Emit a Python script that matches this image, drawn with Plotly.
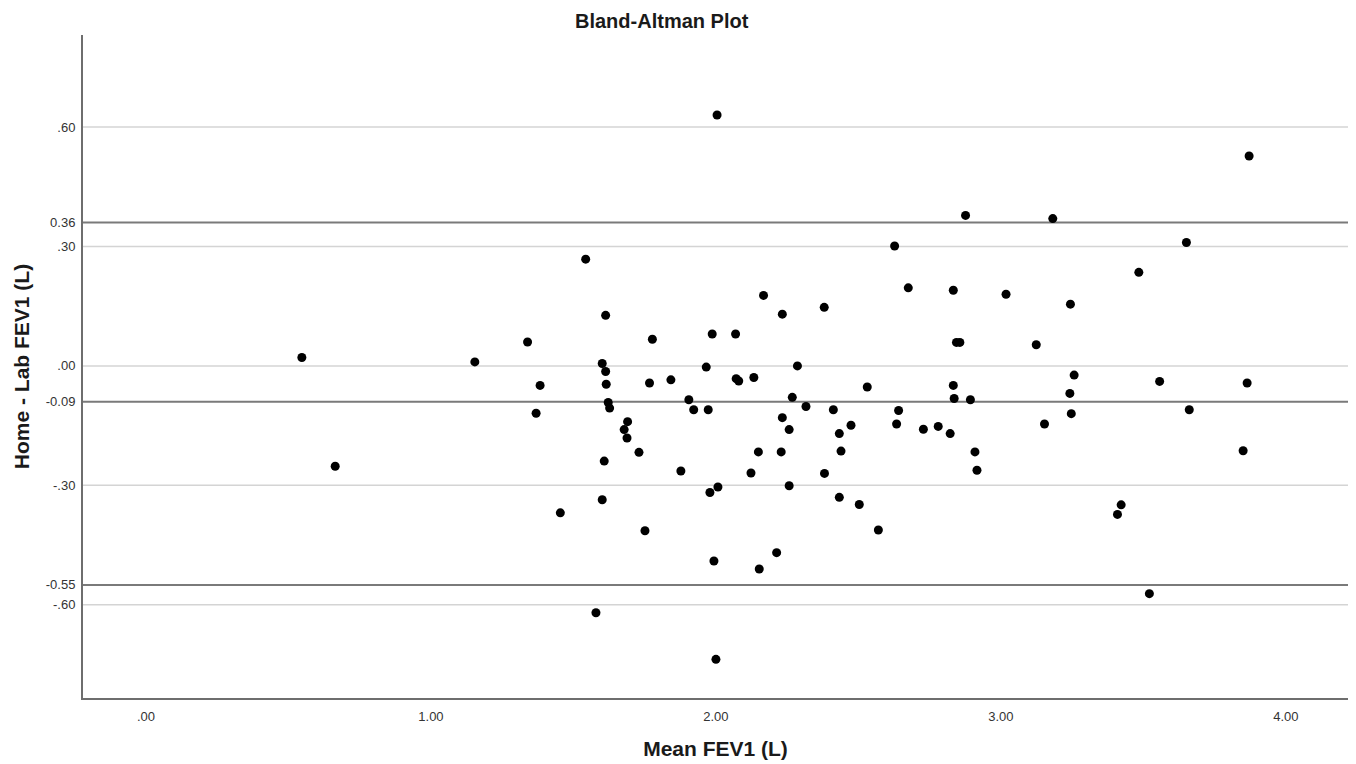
import plotly.graph_objects as go

# Data
mean_fev1 = [0.547, 0.664, 1.154, 1.339, 1.369, 1.383, 1.454, 1.543, 1.579, 1.601,
             1.601, 1.608, 1.613, 1.613, 1.615, 1.622, 1.627, 1.678, 1.688, 1.690,
             1.730, 1.751, 1.767, 1.777, 1.842, 1.877, 1.905, 1.922, 1.966, 1.973,
             1.979, 1.987, 1.993, 2.000, 2.004, 2.007, 2.069, 2.071, 2.080, 2.123,
             2.133, 2.149, 2.152, 2.167, 2.213, 2.229, 2.233, 2.233, 2.257, 2.257,
             2.268, 2.286, 2.316, 2.380, 2.381, 2.412, 2.433, 2.433, 2.439, 2.474,
             2.503, 2.531, 2.570, 2.627, 2.634, 2.641, 2.675, 2.728, 2.780, 2.822,
             2.833, 2.833, 2.836, 2.844, 2.856, 2.876, 2.893, 2.909, 2.916, 3.018,
             3.124, 3.153, 3.182, 3.242, 3.244, 3.247, 3.257, 3.409, 3.422, 3.484,
             3.521, 3.557, 3.651, 3.661, 3.850, 3.864, 3.871]
diff_fev1 = [0.021, -0.252, 0.010, 0.060, -0.119, -0.049, -0.369, 0.268, -0.620, 0.006,
             -0.336, -0.239, 0.127, -0.014, -0.046, -0.092, -0.106, -0.160, -0.181, -0.140,
             -0.217, -0.414, -0.043, 0.067, -0.035, -0.264, -0.085, -0.110, -0.003, -0.110,
             -0.318, 0.080, -0.490, -0.737, 0.630, -0.304, 0.080, -0.032, -0.038, -0.269,
             -0.029, -0.216, -0.510, 0.177, -0.469, -0.216, 0.130, -0.130, -0.160, -0.301,
             -0.079, 0.000, -0.102, 0.147, -0.270, -0.110, -0.170, -0.330, -0.214, -0.149,
             -0.348, -0.053, -0.412, 0.301, -0.146, -0.112, 0.196, -0.159, -0.152, -0.170,
             0.190, -0.049, -0.082, 0.059, 0.059, 0.378, -0.085, -0.216, -0.262, 0.180,
             0.053, -0.146, 0.370, -0.069, 0.155, -0.120, -0.023, -0.373, -0.349, 0.235,
             -0.572, -0.039, 0.310, -0.110, -0.213, -0.043, 0.527]

grid_values = [-0.60, -0.30, 0.00, 0.30, 0.60]
limit_values = [0.36, -0.09, -0.55]   # upper LoA, mean bias, lower LoA

y_tickvals = [0.60, 0.36, 0.30, 0.00, -0.09, -0.30, -0.55, -0.60]
y_ticktext = [".60", "0.36", ".30", ".00", "-0.09", "-.30", "-0.55", "-.60"]
x_tickvals = [0, 1, 2, 3, 4]
x_ticktext = [".00", "1.00", "2.00", "3.00", "4.00"]

FONT = "Liberation Sans, Arial, sans-serif"

fig = go.Figure()

shapes = []
for g in grid_values:
    shapes.append(dict(type="line", xref="paper", x0=0, x1=1, yref="y", y0=g, y1=g,
                       line=dict(color="#d4d4d4", width=1.5), layer="below"))
for v in limit_values:
    shapes.append(dict(type="line", xref="paper", x0=0, x1=1, yref="y", y0=v, y1=v,
                       line=dict(color="#7a7a7a", width=2), layer="below"))

fig.add_trace(go.Scatter(
    x=mean_fev1, y=diff_fev1, mode="markers",
    marker=dict(color="black", size=9, line=dict(width=0)),
    showlegend=False, cliponaxis=False,
))

fig.update_layout(
    width=1348, height=756,
    margin=dict(l=75, r=8, t=27, b=66),
    paper_bgcolor="white", plot_bgcolor="white",
    font=dict(family=FONT, color="#333333"),
    shapes=shapes,
    annotations=[dict(text="<b>Bland-Altman Plot</b>", xref="paper", yref="paper",
                      x=(662 - 83) / 1265, y=1, yshift=14, xanchor="center",
                      yanchor="middle", showarrow=False,
                      font=dict(family=FONT, size=20, color="#1a1a1a"))],
    xaxis=dict(range=[-0.221, 4.218], tickvals=x_tickvals, ticktext=x_ticktext,
               automargin=False,
               showgrid=False, zeroline=False, showline=True, linecolor="#6e6e6e",
               linewidth=2, ticks="outside", ticklen=5, tickcolor="rgba(0,0,0,0)",
               tickfont=dict(size=13, color="#333333", family=FONT),
               title=dict(text="<b>Mean FEV1 (L)</b>", standoff=19,
                          font=dict(size=21, color="#1a1a1a", family=FONT))),
    yaxis=dict(range=[-0.834, 0.831], tickvals=y_tickvals, ticktext=y_ticktext,
               automargin=False,
               showgrid=False, zeroline=False, showline=True, linecolor="#6e6e6e",
               linewidth=2, ticks="outside", ticklen=3, tickcolor="rgba(0,0,0,0)",
               tickfont=dict(size=13, color="#333333", family=FONT),
               title=dict(text="<b>Home - Lab FEV1 (L)</b>", standoff=10,
                          font=dict(size=21, color="#1a1a1a", family=FONT))),
)

fig.write_html("out.html")
